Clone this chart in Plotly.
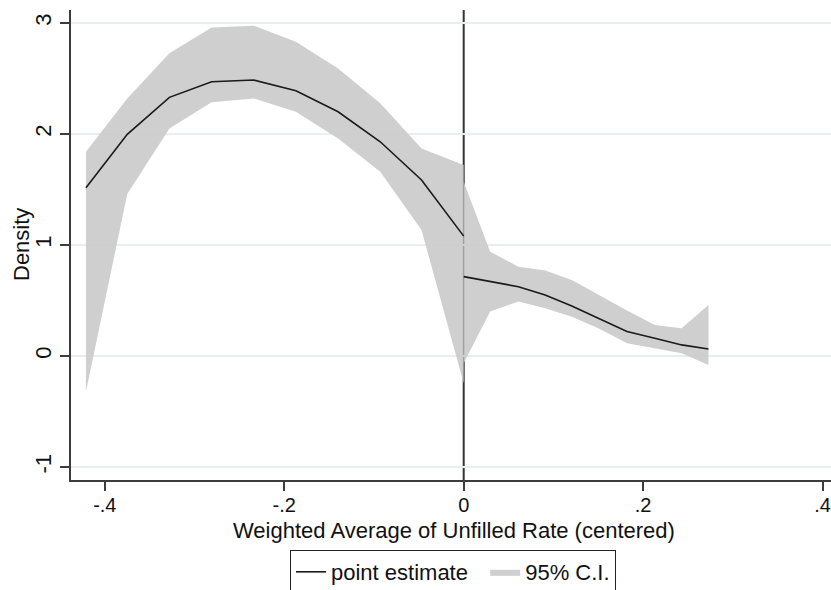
import plotly.graph_objects as go

# Left of cutoff
x_left = [-0.421, -0.375, -0.328, -0.281, -0.234, -0.187, -0.140, -0.093, -0.047, 0.0]
est_left = [1.516, 1.997, 2.33, 2.471, 2.486, 2.39, 2.20, 1.93, 1.586, 1.08]
hi_left = [1.84, 2.32, 2.727, 2.96, 2.976, 2.83, 2.59, 2.277, 1.87, 1.72]
lo_left = [-0.32, 1.46, 2.05, 2.285, 2.32, 2.20, 1.96, 1.66, 1.135, -0.246]

# Right of cutoff
x_right = [0.0, 0.0295, 0.061, 0.0908, 0.1205, 0.150, 0.182, 0.213, 0.243, 0.2728]
est_right = [0.715, 0.673, 0.624, 0.55, 0.45, 0.34, 0.22, 0.16, 0.10, 0.063]
hi_right = [1.57, 0.94, 0.805, 0.77, 0.685, 0.55, 0.41, 0.28, 0.25, 0.46]
lo_right = [-0.066, 0.40, 0.49, 0.43, 0.354, 0.25, 0.114, 0.07, 0.024, -0.08]

x_tickvals = [-0.4, -0.2, 0, 0.2, 0.4]
x_ticktext = ["-.4", "-.2", "0", ".2", ".4"]
y_tickvals = [-1, 0, 1, 2, 3]
y_ticktext = ["-1", "0", "1", "2", "3"]
x_title = "Weighted Average of Unfilled Rate (centered)"
y_title = "Density"

FONT = "Liberation Sans, Arial, sans-serif"
FILL = "rgba(202,202,202,0.9)"
LINE = "#1a1a1a"
AXIS = "#3c3c3c"
GRID = "#e6eff1"

fig = go.Figure()

for i, (xs, lo, hi) in enumerate([(x_left, lo_left, hi_left), (x_right, lo_right, hi_right)]):
    fig.add_trace(go.Scatter(
        x=xs + xs[::-1], y=hi + lo[::-1], fill="toself", fillcolor=FILL,
        line=dict(width=0, color=FILL), mode="lines", name="95% C.I.",
        legendgroup="ci", showlegend=(i == 0), legendrank=2, hoverinfo="skip"))

for i, (xs, ys) in enumerate([(x_left, est_left), (x_right, est_right)]):
    fig.add_trace(go.Scatter(
        x=xs, y=ys, mode="lines", line=dict(color=LINE, width=1.6),
        name="point estimate&nbsp;&nbsp;", legendgroup="pe",
        showlegend=(i == 0), legendrank=1))

fig.add_shape(type="line", xref="x", yref="paper", x0=0, x1=0, y0=0, y1=1,
              line=dict(color="#333333", width=2), layer="below")

fig.add_annotation(text=x_title, xref="paper", yref="paper",
                   x=(454 - 71) / 760, y=-(530 - 480) / 470,
                   xanchor="center", yanchor="middle", showarrow=False,
                   font=dict(family=FONT, size=22, color="#111111"))
fig.add_annotation(text=y_title, xref="paper", yref="paper",
                   x=(21 - 71) / 760, y=(480 - 245) / 470, textangle=-90,
                   xanchor="center", yanchor="middle", showarrow=False,
                   font=dict(family=FONT, size=22, color="#111111"))

fig.update_layout(
    width=831, height=590,
    margin=dict(l=71, r=0, t=10, b=110),
    paper_bgcolor="white", plot_bgcolor="white",
    font=dict(family=FONT, size=22, color="#111111"),
    showlegend=True,
    legend=dict(
        orientation="h", xref="container", yref="container",
        x=453 / 831, xanchor="center", y=1 - 550 / 590, yanchor="top",
        bordercolor="#222222", borderwidth=1, bgcolor="white",
        font=dict(family=FONT, size=22, color="#111111"),
        itemwidth=30, traceorder="normal",
    ),
    xaxis=dict(
        range=[-0.4377, 0.4094], tickvals=x_tickvals, ticktext=x_ticktext,
        showline=True, linecolor=AXIS, linewidth=2, ticks="outside", ticklen=9,
        tickwidth=1.5, tickcolor=AXIS, showgrid=False, zeroline=False,
        ticklabeloverflow="allow", ticklabelstandoff=-3,
        tickfont=dict(family=FONT, size=20),
    ),
    yaxis=dict(
        range=[-1.117, 3.117], tickvals=y_tickvals, ticktext=y_ticktext,
        showline=True, linecolor=AXIS, linewidth=2, ticks="outside", ticklen=9,
        tickwidth=1.5, tickcolor=AXIS, showgrid=True, gridcolor=GRID, gridwidth=1.5,
        zeroline=False, tickangle=-90,
        tickfont=dict(family=FONT, size=22),
    ),
)

fig.write_html("out.html")
